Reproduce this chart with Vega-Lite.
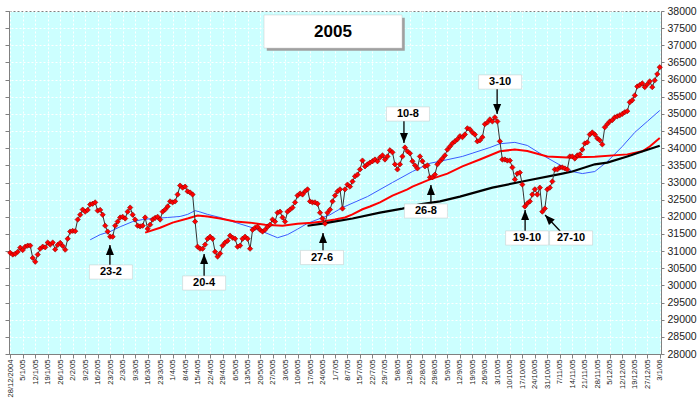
{
  "$schema": "https://vega.github.io/schema/vega-lite/v6.json",
  "width": 652,
  "height": 343,
  "autosize": {"type": "none"},
  "padding": {"left": 9, "top": 11, "right": 39, "bottom": 44},
  "background": "white",
  "config": {
    "font": "Liberation Sans",
    "view": {"fill": "#ccffff", "stroke": "#808080", "strokeWidth": 1},
    "axisX": {
      "tickCount": 52,
      "labelExpr": "['28/12/2004','5/1/05','12/1/05','19/1/05','26/1/05','2/2/05','9/2/05','16/2/05','23/2/05','2/3/05','9/3/05','16/3/05','23/3/05','1/4/05','8/4/05','15/4/05','22/4/05','29/4/05','6/5/05','13/5/05','20/5/05','27/5/05','3/6/05','10/6/05','17/6/05','24/6/05','1/7/05','8/7/05','15/7/05','22/7/05','29/7/05','5/8/05','12/8/05','22/8/05','29/8/05','5/9/05','12/9/05','19/9/05','26/9/05','3/10/05','10/10/05','17/10/05','24/10/05','31/10/05','7/11/05','14/11/05','21/11/05','28/11/05','5/12/05','12/12/05','19/12/05','27/12/05','3/1/06'][round(datum.value/5)]",
      "labelAngle": -90, "labelFontSize": 7.6, "labelColor": "#222", "labelPadding": 1, "labelFlush": false, "labelOverlap": false, "labelBound": false,
      "grid": true, "gridColor": "white", "gridDash": [2, 2], "gridWidth": 1,
      "domainColor": "#808080", "tickColor": "#808080", "tickSize": 4
    }
  },
  "datasets": {
    "price": [
      {"d":0,"v":30950},{"d":1,"v":30900},{"d":2,"v":30920},{"d":3,"v":30980},{"d":4,"v":31100},{"d":5,"v":31030},{"d":6,"v":31130},{"d":7,"v":31160},{"d":8,"v":31160},{"d":9,"v":30800},
      {"d":10,"v":30690},{"d":11,"v":30900},{"d":12,"v":31070},{"d":13,"v":31130},{"d":14,"v":31110},{"d":15,"v":31250},{"d":16,"v":31190},{"d":17,"v":31250},{"d":18,"v":31050},{"d":19,"v":31180},
      {"d":20,"v":31240},{"d":21,"v":31150},{"d":22,"v":31040},{"d":23,"v":31360},{"d":24,"v":31570},{"d":25,"v":31590},{"d":26,"v":31580},{"d":27,"v":31920},{"d":28,"v":32060},{"d":29,"v":32210},
      {"d":30,"v":32150},{"d":31,"v":32200},{"d":32,"v":32360},{"d":33,"v":32380},{"d":34,"v":32420},{"d":35,"v":32180},{"d":36,"v":32200},{"d":37,"v":32060},{"d":38,"v":31740},{"d":39,"v":31570},
      {"d":40,"v":31420},{"d":41,"v":31420},{"d":42,"v":31740},{"d":43,"v":31860},{"d":44,"v":31980},{"d":45,"v":32000},{"d":46,"v":31950},{"d":47,"v":32150},{"d":48,"v":32270},{"d":49,"v":32060},
      {"d":50,"v":31920},{"d":51,"v":31740},{"d":52,"v":31720},{"d":53,"v":31740},{"d":54,"v":31980},{"d":55,"v":31650},{"d":56,"v":31770},{"d":57,"v":31920},{"d":58,"v":31970},{"d":59,"v":32000},
      {"d":60,"v":31920},{"d":61,"v":32150},{"d":62,"v":32210},{"d":63,"v":32300},{"d":64,"v":32450},{"d":65,"v":32420},{"d":66,"v":32450},{"d":67,"v":32650},{"d":68,"v":32910},{"d":69,"v":32850},
      {"d":70,"v":32880},{"d":71,"v":32740},{"d":72,"v":32710},{"d":73,"v":32650},{"d":74,"v":31860},{"d":75,"v":31130},{"d":76,"v":31070},{"d":77,"v":31070},{"d":78,"v":31190},{"d":79,"v":31360},
      {"d":80,"v":31420},{"d":81,"v":31360},{"d":82,"v":30980},{"d":83,"v":30840},{"d":84,"v":30930},{"d":85,"v":31160},{"d":86,"v":31250},{"d":87,"v":31300},{"d":88,"v":31450},{"d":89,"v":31390},
      {"d":90,"v":31360},{"d":91,"v":31130},{"d":92,"v":31160},{"d":93,"v":31360},{"d":94,"v":31420},{"d":95,"v":31360},{"d":96,"v":31070},{"d":97,"v":31620},{"d":98,"v":31680},{"d":99,"v":31710},
      {"d":100,"v":31620},{"d":101,"v":31570},{"d":102,"v":31620},{"d":103,"v":31710},{"d":104,"v":31770},{"d":105,"v":31920},{"d":106,"v":31860},{"d":107,"v":32120},{"d":108,"v":32150},{"d":109,"v":31980},
      {"d":110,"v":31860},{"d":111,"v":32150},{"d":112,"v":32210},{"d":113,"v":32270},{"d":114,"v":32420},{"d":115,"v":32620},{"d":116,"v":32680},{"d":117,"v":32650},{"d":118,"v":32740},{"d":119,"v":32800},
      {"d":120,"v":32450},{"d":121,"v":32420},{"d":122,"v":32420},{"d":123,"v":32380},{"d":124,"v":32120},{"d":125,"v":31950},{"d":126,"v":31800},{"d":127,"v":32120},{"d":128,"v":32210},{"d":129,"v":32450},
      {"d":130,"v":32620},{"d":131,"v":32740},{"d":132,"v":32800},{"d":133,"v":32240},{"d":134,"v":32800},{"d":135,"v":32940},{"d":136,"v":32880},{"d":137,"v":33030},{"d":138,"v":33180},{"d":139,"v":33230},
      {"d":140,"v":33380},{"d":141,"v":33640},{"d":142,"v":33470},{"d":143,"v":33530},{"d":144,"v":33580},{"d":145,"v":33620},{"d":146,"v":33670},{"d":147,"v":33620},{"d":148,"v":33730},{"d":149,"v":33790},
      {"d":150,"v":33670},{"d":151,"v":33760},{"d":152,"v":33940},{"d":153,"v":33880},{"d":154,"v":33530},{"d":155,"v":33380},{"d":156,"v":33530},{"d":157,"v":33760},{"d":158,"v":34020},{"d":159,"v":33910},
      {"d":160,"v":33850},{"d":161,"v":33620},{"d":162,"v":33500},{"d":163,"v":33410},{"d":164,"v":33760},{"d":165,"v":33620},{"d":166,"v":33470},{"d":167,"v":33500},{"d":168,"v":33150},{"d":169,"v":33150},
      {"d":170,"v":33230},{"d":171,"v":33530},{"d":172,"v":33620},{"d":173,"v":33700},{"d":174,"v":33790},{"d":175,"v":33960},{"d":176,"v":34050},{"d":177,"v":34140},{"d":178,"v":34200},{"d":179,"v":34260},
      {"d":180,"v":34350},{"d":181,"v":34320},{"d":182,"v":34400},{"d":183,"v":34580},{"d":184,"v":34550},{"d":185,"v":34460},{"d":186,"v":34400},{"d":187,"v":34200},{"d":188,"v":34230},{"d":189,"v":34320},
      {"d":190,"v":34700},{"d":191,"v":34750},{"d":192,"v":34840},{"d":193,"v":34780},{"d":194,"v":34900},{"d":195,"v":34780},{"d":196,"v":34200},{"d":197,"v":33670},{"d":198,"v":33670},{"d":199,"v":33640},
      {"d":200,"v":33640},{"d":201,"v":33440},{"d":202,"v":33090},{"d":203,"v":33260},{"d":204,"v":33290},{"d":205,"v":32940},{"d":206,"v":32300},{"d":207,"v":32390},{"d":208,"v":32450},{"d":209,"v":32650},
      {"d":210,"v":32800},{"d":211,"v":32650},{"d":212,"v":32850},{"d":213,"v":32150},{"d":214,"v":32240},{"d":215,"v":32800},{"d":216,"v":32850},{"d":217,"v":33030},{"d":218,"v":33380},{"d":219,"v":33380},
      {"d":220,"v":33440},{"d":221,"v":33440},{"d":222,"v":33410},{"d":223,"v":33380},{"d":224,"v":33760},{"d":225,"v":33760},{"d":226,"v":33700},{"d":227,"v":33790},{"d":228,"v":33820},{"d":229,"v":33960},
      {"d":230,"v":34140},{"d":231,"v":34170},{"d":232,"v":34400},{"d":233,"v":34460},{"d":234,"v":34400},{"d":235,"v":34290},{"d":236,"v":34230},{"d":237,"v":34110},{"d":238,"v":34610},{"d":239,"v":34700},
      {"d":240,"v":34780},{"d":241,"v":34820},{"d":242,"v":34900},{"d":243,"v":34930},{"d":244,"v":34960},{"d":245,"v":35000},{"d":246,"v":35050},{"d":247,"v":35080},{"d":248,"v":35340},{"d":249,"v":35400},
      {"d":250,"v":35540},{"d":251,"v":35800},{"d":252,"v":35840},{"d":253,"v":35890},{"d":254,"v":35780},{"d":255,"v":35860},{"d":256,"v":35950},{"d":257,"v":35780},{"d":258,"v":35980},{"d":259,"v":36160},
      {"d":260,"v":36360}
    ],
    "maBlue": [
      {"d":32,"v":31330},{"d":36,"v":31480},{"d":40,"v":31570},{"d":44,"v":31710},{"d":49,"v":31860},{"d":53,"v":31920},{"d":57,"v":31950},{"d":63,"v":31980},{"d":68,"v":32010},{"d":71,"v":32070},
      {"d":74,"v":32180},{"d":76,"v":32140},{"d":79,"v":32070},{"d":84,"v":31980},{"d":89,"v":31860},{"d":97,"v":31680},{"d":102,"v":31540},{"d":107,"v":31390},{"d":111,"v":31480},{"d":115,"v":31640},
      {"d":119,"v":31810},{"d":124,"v":31950},{"d":128,"v":32060},{"d":133,"v":32270},{"d":143,"v":32590},{"d":153,"v":33000},{"d":161,"v":33320},{"d":168,"v":33560},{"d":174,"v":33650},{"d":181,"v":33760},
      {"d":192,"v":34020},{"d":196,"v":34130},{"d":202,"v":34170},{"d":207,"v":34080},{"d":214,"v":33760},{"d":221,"v":33470},{"d":225,"v":33320},{"d":229,"v":33260},{"d":234,"v":33320},{"d":239,"v":33610},
      {"d":245,"v":34050},{"d":250,"v":34460},{"d":255,"v":34780},{"d":260,"v":35100}
    ],
    "maRed": [
      {"d":54,"v":31540},{"d":60,"v":31680},{"d":65,"v":31830},{"d":71,"v":31950},{"d":75,"v":32040},{"d":79,"v":32010},{"d":84,"v":31950},{"d":90,"v":31860},{"d":96,"v":31830},{"d":102,"v":31770},
      {"d":109,"v":31740},{"d":115,"v":31800},{"d":121,"v":31830},{"d":125,"v":31860},{"d":130,"v":31920},{"d":134,"v":31980},{"d":137,"v":32070},{"d":141,"v":32220},{"d":144,"v":32300},{"d":148,"v":32420},
      {"d":153,"v":32620},{"d":159,"v":32800},{"d":161,"v":32880},{"d":168,"v":33090},{"d":175,"v":33260},{"d":181,"v":33470},{"d":188,"v":33670},{"d":196,"v":33910},{"d":202,"v":33960},{"d":207,"v":33920},
      {"d":215,"v":33760},{"d":223,"v":33730},{"d":234,"v":33750},{"d":247,"v":33820},{"d":253,"v":33910},{"d":256,"v":34050},{"d":260,"v":34300}
    ],
    "maBlack": [
      {"d":119,"v":31740},{"d":125,"v":31800},{"d":137,"v":31950},{"d":148,"v":32120},{"d":157,"v":32240},{"d":164,"v":32360},{"d":172,"v":32450},{"d":180,"v":32590},{"d":193,"v":32850},{"d":205,"v":33030},
      {"d":221,"v":33260},{"d":225,"v":33320},{"d":234,"v":33530},{"d":239,"v":33580},{"d":247,"v":33760},{"d":252,"v":33880},{"d":260,"v":34070}
    ],
    "notes": [
      {"label":"23-2","bx":40.3,"by":30391,"tx":39.9,"ty":30595,"hx":39.9,"hy":31178,"dir":"up"},
      {"label":"20-4","bx":77.6,"by":30070,"tx":77.6,"ty":30274,"hx":77.6,"hy":30915,"dir":"up"},
      {"label":"27-6","bx":124.8,"by":30813,"tx":125.2,"ty":30988,"hx":125.2,"hy":31528,"dir":"up"},
      {"label":"10-8","bx":159.2,"by":34997,"tx":157.6,"ty":34793,"hx":157.6,"hy":34152,"dir":"down"},
      {"label":"26-8","bx":166.4,"by":32169,"tx":168.4,"ty":32344,"hx":168.4,"hy":32927,"dir":"up"},
      {"label":"3-10","bx":196.1,"by":35930,"tx":194.9,"ty":35726,"hx":194.9,"hy":34997,"dir":"down"},
      {"label":"19-10","bx":206.9,"by":31382,"tx":206.1,"ty":31586,"hx":206.1,"hy":32198,"dir":"up"},
      {"label":"27-10","bx":224.5,"by":31382,"tx":220.1,"ty":31586,"hx":214.1,"hy":32052,"dir":"diag"}
    ],
    "titleBox": [{"label":"2005","bx":129.2,"by":37402}]
  },
  "resolve": {"axis": {"y": "independent"}},
  "layer": [
    {
      "data": {"name": "maBlue"},
      "mark": {"type": "line", "color": "#3b5bff", "strokeWidth": 1},
      "encoding": {
        "x": {"field": "d", "type": "quantitative", "title": null, "scale": {"domain": [-0.5, 260.5], "nice": false, "zero": false}},
        "y": {"field": "v", "type": "quantitative", "scale": {"domain": [28000, 38000], "nice": false, "zero": false},
          "axis": {"orient": "left", "labels": false, "grid": false, "title": null, "values": [28000,28500,29000,29500,30000,30500,31000,31500,32000,32500,33000,33500,34000,34500,35000,35500,36000,36500,37000,37500,38000], "domainColor": "#808080", "tickColor": "#808080", "tickSize": 4}}
      }
    },
    {
      "data": {"name": "maRed"},
      "mark": {"type": "line", "color": "#ff0000", "strokeWidth": 2},
      "encoding": {
        "x": {"field": "d", "type": "quantitative", "title": null},
        "y": {"field": "v", "type": "quantitative",
          "axis": {"orient": "right", "title": null, "format": "d", "values": [28000,28500,29000,29500,30000,30500,31000,31500,32000,32500,33000,33500,34000,34500,35000,35500,36000,36500,37000,37500,38000],
            "labelFontSize": 10.5, "labelColor": "#222", "labelPadding": 3, "labelFlush": false, "labelOverlap": false, "labelBound": false,
            "grid": true, "gridColor": "white", "gridDash": [2, 2], "gridWidth": 1,
            "domainColor": "#808080", "tickColor": "#808080", "tickSize": 3}}
      }
    },
    {
      "data": {"name": "maBlack"},
      "mark": {"type": "line", "color": "#000000", "strokeWidth": 2.2},
      "encoding": {
        "x": {"field": "d", "type": "quantitative", "title": null},
        "y": {"field": "v", "type": "quantitative", "axis": null}
      }
    },
    {
      "data": {"name": "price"},
      "mark": {"type": "line", "color": "#333333", "strokeWidth": 1},
      "encoding": {
        "x": {"field": "d", "type": "quantitative", "title": null},
        "y": {"field": "v", "type": "quantitative", "axis": null}
      }
    },
    {
      "data": {"name": "price"},
      "mark": {"type": "point", "shape": "diamond", "filled": true, "size": 28, "color": "#ff0000", "stroke": "#8b0000", "strokeWidth": 0.6, "opacity": 1},
      "encoding": {
        "x": {"field": "d", "type": "quantitative", "title": null},
        "y": {"field": "v", "type": "quantitative", "axis": null}
      }
    },
    {
      "data": {"name": "notes"},
      "mark": {"type": "rule", "color": "#000000", "strokeWidth": 1.3},
      "encoding": {
        "x": {"field": "tx", "type": "quantitative", "title": null},
        "y": {"field": "ty", "type": "quantitative", "axis": null},
        "x2": {"field": "hx"},
        "y2": {"field": "hy"}
      }
    },
    {
      "data": {"name": "notes"},
      "mark": {"type": "point", "filled": true, "size": 100, "color": "#000000", "opacity": 1},
      "encoding": {
        "x": {"field": "hx", "type": "quantitative", "title": null},
        "y": {"field": "hy", "type": "quantitative", "axis": null},
        "shape": {"field": "dir", "type": "nominal", "legend": null,
          "scale": {"domain": ["up", "down", "diag"], "range": ["M0,0L0.8,2L-0.8,2Z", "M0,0L0.8,-2L-0.8,-2Z", "M0,0L1.94,0.92L0.78,2Z"]}}
      }
    },
    {
      "data": {"name": "notes"},
      "mark": {"type": "point", "filled": true, "size": 1849, "shape": "M-1,-0.33L1,-0.33L1,0.33L-1,0.33Z", "color": "white", "stroke": "#c8c8c8", "strokeWidth": 0.5, "opacity": 1},
      "encoding": {
        "x": {"field": "bx", "type": "quantitative", "title": null},
        "y": {"field": "by", "type": "quantitative", "axis": null}
      }
    },
    {
      "data": {"name": "notes"},
      "mark": {"type": "text", "fontSize": 11, "fontWeight": "bold", "color": "#000000", "align": "center", "baseline": "middle"},
      "encoding": {
        "x": {"field": "bx", "type": "quantitative", "title": null},
        "y": {"field": "by", "type": "quantitative", "axis": null},
        "text": {"field": "label"}
      }
    },
    {
      "data": {"name": "titleBox"},
      "mark": {"type": "point", "filled": true, "size": 19044, "shape": "M-0.96,-0.2L1.04,-0.2L1.04,0.28L-0.96,0.28Z", "color": "#a0a0a0", "opacity": 1},
      "encoding": {
        "x": {"field": "bx", "type": "quantitative", "title": null},
        "y": {"field": "by", "type": "quantitative", "axis": null}
      }
    },
    {
      "data": {"name": "titleBox"},
      "mark": {"type": "point", "filled": true, "size": 19044, "shape": "M-1,-0.24L1,-0.24L1,0.24L-1,0.24Z", "color": "white", "stroke": "#c8c8c8", "strokeWidth": 0.5, "opacity": 1},
      "encoding": {
        "x": {"field": "bx", "type": "quantitative", "title": null},
        "y": {"field": "by", "type": "quantitative", "axis": null}
      }
    },
    {
      "data": {"name": "titleBox"},
      "mark": {"type": "text", "fontSize": 17, "fontWeight": "bold", "color": "#000000", "align": "center", "baseline": "middle"},
      "encoding": {
        "x": {"field": "bx", "type": "quantitative", "title": null},
        "y": {"field": "by", "type": "quantitative", "axis": null},
        "text": {"field": "label"}
      }
    }
  ]
}
